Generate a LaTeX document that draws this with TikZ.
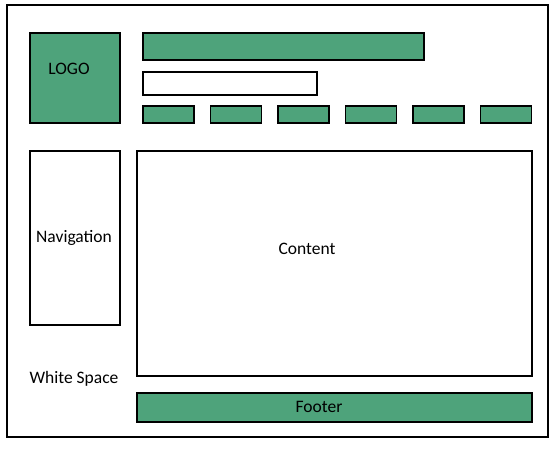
\documentclass[tikz,border=0pt]{standalone}
\usepackage{xcolor}
\usepackage{fontspec}
\setmainfont{Carlito}
\usepackage{tikz}
\definecolor{boxgreen}{RGB}{78,163,123}
\tikzset{
	plainbox/.style={draw=black, line width=1.5pt, fill=white, anchor=north west, inner sep=0pt, outer sep=0pt},
	greenbox/.style={plainbox, fill=boxgreen},
	pagetext/.style={inner sep=0.75pt, font=\fontsize{17.5}{21}\selectfont}
}
\begin{document}
\begin{tikzpicture}[x=1pt,y=1pt,yscale=-1,xscale=1]
	\useasboundingbox (0,0) rectangle (560,449);
	
	%Page frame
	\node [plainbox, minimum width=541pt, minimum height=432pt] (page) at (7,5) {};
	
	%Header
	\node [greenbox, minimum width=90pt, minimum height=90pt] (logo) at (30,33) {};
	\node [greenbox, minimum width=281pt, minimum height=27pt] (titlebar) at (143,33) {};
	\node [plainbox, minimum width=174pt, minimum height=23pt] (searchbar) at (143,72) {};
	
	%Menu items
	\node [greenbox, minimum width=51pt, minimum height=17pt] (menuA) at (143,106) {};
	\node [greenbox, minimum width=51pt, minimum height=17pt] (menuB) at (210.5,106) {};
	\node [greenbox, minimum width=51pt, minimum height=17pt] (menuC) at (278,106) {};
	\node [greenbox, minimum width=51pt, minimum height=17pt] (menuD) at (345.5,106) {};
	\node [greenbox, minimum width=51pt, minimum height=17pt] (menuE) at (413,106) {};
	\node [greenbox, minimum width=51pt, minimum height=17pt] (menuF) at (480.5,106) {};
	
	%Body
	\node [plainbox, minimum width=90pt, minimum height=174pt] (navbox) at (30,151) {};
	\node [plainbox, minimum width=395pt, minimum height=225pt] (contentbox) at (137,151) {};
	\node [greenbox, minimum width=395pt, minimum height=29pt] (footerbox) at (137,393) {};
	
	% Text Node
	\node [pagetext] (logotext) at (69,69) {LOGO};
	% Text Node
	\node [pagetext] (navtext) at (74,238) {Navigation};
	% Text Node
	\node [pagetext] (contenttext) at (307,249) {Content};
	% Text Node
	\node [pagetext] (spacetext) at (74,379) {White Space};
	% Text Node
	\node [pagetext] (footertext) at (319,407) {Footer};
	
\end{tikzpicture}
\end{document}
